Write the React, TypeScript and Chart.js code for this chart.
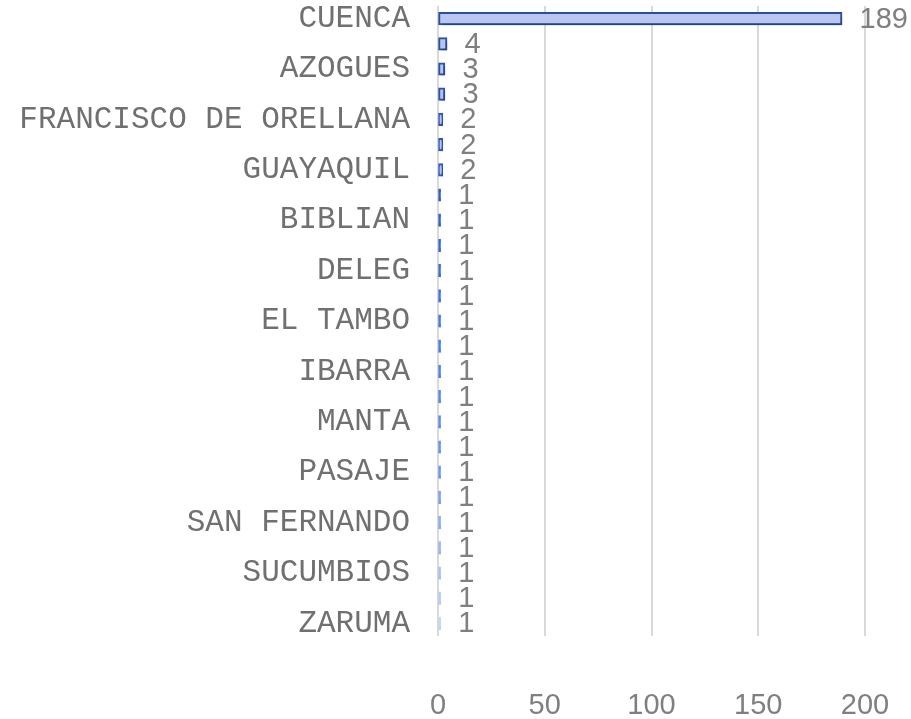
import React, { useEffect, useRef } from "react";
import { Chart, registerables } from "chart.js";

Chart.register(...registerables);

// Category names (unreadable ones left blank, as in the reference only every other label is shown)
const categories: string[] = [
  "CUENCA", "", "AZOGUES", "", "FRANCISCO DE ORELLANA", "", "GUAYAQUIL", "",
  "BIBLIAN", "", "DELEG", "", "EL TAMBO", "", "IBARRA", "", "MANTA", "",
  "PASAJE", "", "SAN FERNANDO", "", "SUCUMBIOS", "", "ZARUMA",
];

const values: number[] = [
  189, 4, 3, 3, 2, 2, 2, 1, 1, 1, 1, 1, 1, 1, 1, 1, 1, 1, 1, 1, 1, 1, 1, 1, 1,
];

const xTicks: number[] = [0, 50, 100, 150, 200];

const NUM_FONT = "'Liberation Sans', Arial, sans-serif";

// border colour stops from top bar to bottom bar
const borderStops: [number, number, number][] = [
  [44, 77, 154],
  [45, 88, 190],
  [60, 125, 232],
  [105, 152, 244],
  [200, 214, 250],
];

function lerpColor(t: number, stops: [number, number, number][]) {
  const seg = (stops.length - 1) * t;
  const i = Math.min(Math.floor(seg), stops.length - 2);
  const f = seg - i;
  const a = stops[i];
  const b = stops[i + 1];
  const c = a.map((v, k) => Math.round(v + (b[k] - v) * f));
  return `rgb(${c[0]},${c[1]},${c[2]})`;
}

const borderColors = values.map((_, i) => lerpColor(i / (values.length - 1), borderStops));
const fillColors = values.map((v, i) =>
  v <= 1
    ? borderColors[i]
    : lerpColor(i / (values.length - 1), [
        [184, 198, 240],
        [170, 190, 240],
        [200, 212, 245],
      ])
);

const shadowPlugin = {
  id: "barShadow",
  beforeDatasetsDraw(chart: any) {
    const ctx = chart.ctx;
    ctx.save();
    ctx.shadowColor = "rgba(0,0,0,0.2)";
    ctx.shadowBlur = 3;
    ctx.shadowOffsetX = 2;
    ctx.shadowOffsetY = 2.5;
  },
  afterDatasetsDraw(chart: any) {
    chart.ctx.restore();
  },
};

const valueLabelPlugin = {
  id: "valueLabels",
  afterDraw(chart: any) {
    const ctx = chart.ctx;
    const meta = chart.getDatasetMeta(0);
    ctx.save();
    ctx.font = `29px ${NUM_FONT}`;
    ctx.fillStyle = "#7f7f7f";
    ctx.textAlign = "left";
    ctx.textBaseline = "middle";
    meta.data.forEach((bar: any, i: number) => {
      ctx.fillText(String(values[i]), bar.x + 18, bar.y + 1);
    });
    ctx.restore();
  },
};

function zeroPadding(scale: any) {
  scale.paddingTop = 0;
  scale.paddingBottom = 0;
  scale.paddingLeft = 0;
  scale.paddingRight = 0;
}

export default function App() {
  const canvasRef = useRef<HTMLCanvasElement | null>(null);

  useEffect(() => {
    document.body.style.margin = "0";
    const canvas = canvasRef.current;
    if (!canvas) return;
    const chart = new Chart(canvas, {
      type: "bar",
      data: {
        labels: categories,
        datasets: [
          {
            data: values,
            backgroundColor: fillColors,
            borderColor: borderColors,
            borderWidth: 2,
            borderSkipped: false,
            inflateAmount: 0.8,
            categoryPercentage: 1,
            barPercentage: 0.46,
          },
        ],
      },
      options: {
        indexAxis: "y",
        animation: false,
        responsive: false,
        maintainAspectRatio: false,
        layout: { padding: { top: 6, right: 46, left: 0, bottom: 0 } },
        plugins: {
          legend: { display: false },
          tooltip: { enabled: false },
        },
        scales: {
          x: {
            min: 0,
            max: 200,
            afterBuildTicks(scale: any) {
              scale.ticks = xTicks.map((v) => ({ value: v }));
            },
            afterFit(scale: any) {
              scale.height = 83;
              zeroPadding(scale);
            },
            grid: {
              color: "#d9d9d9",
              lineWidth: 2,
              drawTicks: false,
            },
            border: { display: false },
            ticks: {
              padding: 53,
              color: "#7f7f7f",
              font: { family: NUM_FONT, size: 29 },
            },
          },
          y: {
            afterFit(scale: any) {
              scale.width = 438;
              zeroPadding(scale);
            },
            grid: { display: false, drawTicks: false },
            border: { display: false },
            ticks: {
              autoSkip: false,
              padding: 28,
              color: "#707070",
              font: { family: "'Liberation Mono', 'Courier New', monospace", size: 31 },
            },
          },
        },
      },
      plugins: [shadowPlugin, valueLabelPlugin],
    });
    return () => chart.destroy();
  }, []);

  return (
    <div style={{ width: 911, height: 719 }}>
      <canvas ref={canvasRef} width={911} height={719} style={{ display: "block" }} />
    </div>
  );
}
